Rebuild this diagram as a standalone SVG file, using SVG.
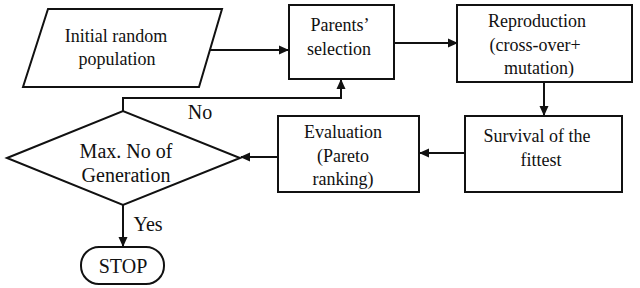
<svg xmlns="http://www.w3.org/2000/svg" width="640" height="288" viewBox="0 0 640 288">
<style>
.s{fill:#fff;stroke:#111;stroke-width:2}
.c{fill:none;stroke:#111;stroke-width:2}
text{font-family:"Liberation Serif","Times New Roman",serif;fill:#111;text-anchor:middle;font-size:18px}
.b{font-size:20px}
</style>
<defs>
<marker id="a" markerWidth="10" markerHeight="10" refX="9" refY="5" orient="auto" markerUnits="userSpaceOnUse">
<path d="M0,0.5 L10,5 L0,9.5 z" fill="#111"/>
</marker>
</defs>
<rect width="640" height="288" fill="#fff"/>
<g id="connectors">
<line class="c" x1="199" y1="50" x2="288" y2="50" marker-end="url(#a)"/>
<line class="c" x1="394" y1="43" x2="457" y2="43" marker-end="url(#a)"/>
<line class="c" x1="544" y1="82" x2="544" y2="115" marker-end="url(#a)"/>
<line class="c" x1="465" y1="153" x2="420" y2="153" marker-end="url(#a)"/>
<line class="c" x1="278" y1="157" x2="241" y2="157" marker-end="url(#a)"/>
<polyline class="c" points="123,111 123,98 341,98 341,80" marker-end="url(#a)"/>
<line class="c" x1="123" y1="205" x2="123" y2="246" marker-end="url(#a)"/>
<text class="b" x="200" y="119">No</text>
<text class="b" x="148" y="231">Yes</text>
</g>
<g id="init">
<polygon class="s" points="48,9 222,9 199,87 23,87"/>
<text x="116" y="42">Initial random</text>
<text x="117" y="65">population</text>
</g>
<g id="parents">
<rect class="s" x="289" y="5" width="105" height="74"/>
<text x="340" y="31">Parents’</text>
<text x="339" y="55">selection</text>
</g>
<g id="reproduction">
<rect class="s" x="457" y="5" width="175" height="77"/>
<text x="537" y="27">Reproduction</text>
<text x="535" y="51">(cross-over+</text>
<text x="539" y="74">mutation)</text>
</g>
<g id="survival">
<rect class="s" x="465" y="116" width="157" height="76"/>
<text x="537" y="142">Survival of the</text>
<text x="541" y="166">fittest</text>
</g>
<g id="evaluation">
<rect class="s" x="278" y="116" width="141" height="76"/>
<text x="343" y="138">Evaluation</text>
<text x="343" y="162">(Pareto</text>
<text x="343" y="185">ranking)</text>
</g>
<g id="decision">
<polygon class="s" points="7,158 123,111 240,158 123,205"/>
<text class="b" x="126" y="158">Max. No of</text>
<text class="b" x="126" y="182">Generation</text>
</g>
<g id="stop">
<rect class="s" x="81" y="247" width="83" height="37" rx="18" ry="18"/>
<text class="b" x="123" y="273">STOP</text>
</g>
</svg>
